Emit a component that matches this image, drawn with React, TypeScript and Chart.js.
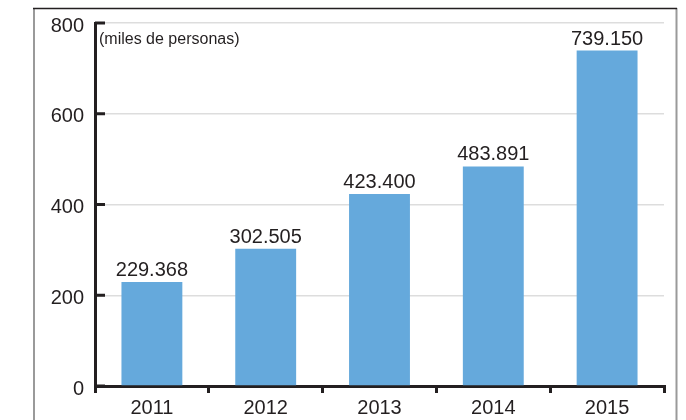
import React, { useEffect, useRef } from "react";
import { Chart, registerables } from "chart.js";

Chart.register(...registerables);

const categories = ["2011", "2012", "2013", "2014", "2015"];
const values = [229.368, 302.505, 423.4, 483.891, 739.15];
const valueLabels = ["229.368", "302.505", "423.400", "483.891", "739.150"];
const yTicks = [0, 200, 400, 600, 800];
const unitLabel = "(miles de personas)";

const FONT = "'Liberation Sans', Arial, Helvetica, sans-serif";
const TEXT = "#231f20";
const BAR = "#65a9dc";

const framePlugin = {
  id: "frame",
  beforeDraw(chart: any) {
    const ctx = chart.ctx;
    ctx.save();
    ctx.fillStyle = "#ffffff";
    ctx.fillRect(0, 0, chart.width, chart.height);
    ctx.lineWidth = 2;
    ctx.strokeStyle = "#9a9a9a";
    ctx.beginPath();
    ctx.moveTo(34, 8);
    ctx.lineTo(34, chart.height);
    ctx.moveTo(676.5, 8);
    ctx.lineTo(676.5, chart.height);
    ctx.stroke();
    ctx.strokeStyle = "#231f20";
    ctx.lineWidth = 1.5;
    ctx.beginPath();
    ctx.moveTo(33, 8.5);
    ctx.lineTo(677, 8.5);
    ctx.stroke();
    ctx.restore();
  },
  afterDraw(chart: any) {
    const ctx = chart.ctx;
    const y = chart.scales.y;
    const area = chart.chartArea;
    ctx.save();
    // inner ticks on y axis
    ctx.strokeStyle = TEXT;
    ctx.lineWidth = 3;
    ctx.beginPath();
    yTicks.forEach((v) => {
      const py = y.getPixelForValue(v);
      ctx.moveTo(area.left, py);
      ctx.lineTo(area.left + 10, py);
    });
    ctx.stroke();
    // unit label
    ctx.fillStyle = TEXT;
    ctx.font = `16px ${FONT}`;
    ctx.textAlign = "left";
    ctx.textBaseline = "middle";
    ctx.fillText(unitLabel, area.left + 4, 40);
    // value labels
    ctx.font = `20px ${FONT}`;
    ctx.textAlign = "center";
    ctx.textBaseline = "alphabetic";
    const meta = chart.getDatasetMeta(0);
    meta.data.forEach((bar: any, i: number) => {
      ctx.fillText(valueLabels[i], bar.x, bar.y - 6);
    });
    ctx.restore();
  },
};

export default function App() {
  const ref = useRef<HTMLCanvasElement | null>(null);
  useEffect(() => {
    if (!ref.current) return;
    const chart = new Chart(ref.current, {
      type: "bar",
      data: {
        labels: categories,
        datasets: [
          {
            data: values,
            backgroundColor: BAR,
            borderWidth: 0,
            barPercentage: 0.535,
            categoryPercentage: 1,
          },
        ],
      },
      options: {
        animation: false,
        responsive: false,
        devicePixelRatio: 1,
        layout: { padding: { top: 22, right: 22, left: 0, bottom: 0 } },
        plugins: {
          legend: { display: false },
          tooltip: { enabled: false },
        },
        scales: {
          x: {
            afterFit(scale: any) {
              scale.height = 34;
            },
            grid: {
              offset: true,
              drawOnChartArea: false,
              drawTicks: true,
              tickLength: 7,
              color: TEXT,
              tickWidth: 3,
              lineWidth: 3,
            },
            border: { display: true, color: TEXT, width: 3 },
            ticks: {
              color: TEXT,
              font: { family: FONT, size: 20 },
              padding: 3,
            },
          },
          y: {
            min: 0,
            max: 800,
            afterFit(scale: any) {
              scale.width = 95;
            },
            afterBuildTicks(scale: any) {
              scale.ticks = yTicks.map((v) => ({ value: v }));
            },
            grid: {
              drawTicks: false,
              color: "#dddddd",
              lineWidth: 1.5,
            },
            border: { display: true, color: TEXT, width: 3 },
            ticks: {
              color: TEXT,
              font: { family: FONT, size: 20 },
              padding: 11,
              labelOffset: 3,
            },
          },
        },
      },
      plugins: [framePlugin],
    });
    return () => chart.destroy();
  }, []);
  return (
    <div style={{ position: "absolute", left: 0, top: 0, width: 686, height: 420 }}>
      <canvas ref={ref} width={686} height={420} style={{ width: 686, height: 420, display: "block" }} />
    </div>
  );
}
